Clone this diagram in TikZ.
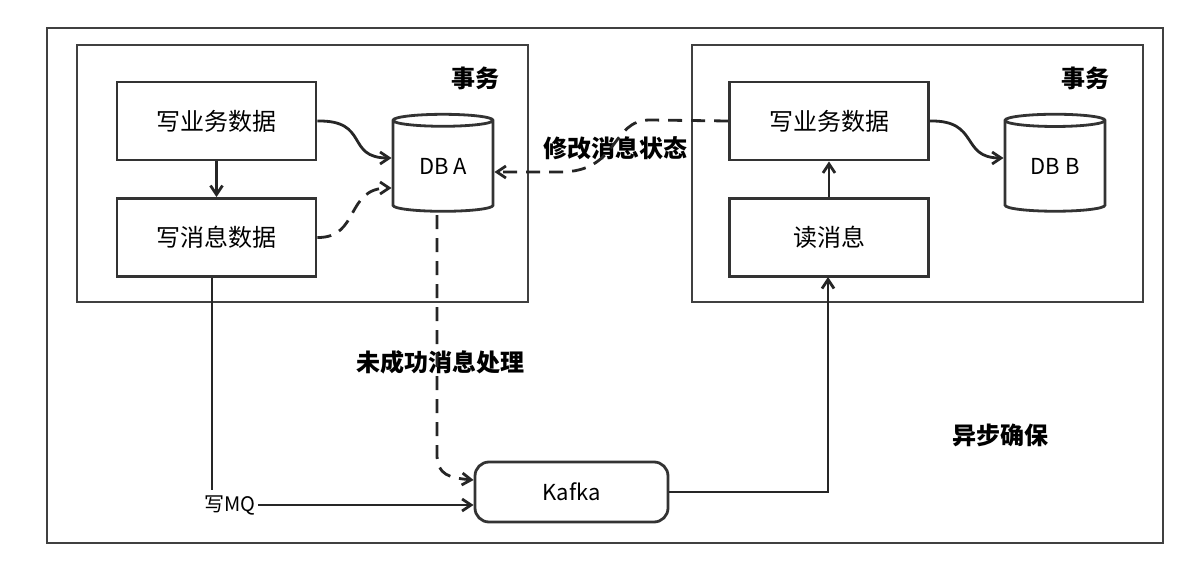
\documentclass[tikz,border=0pt]{standalone}
\usepackage{fontspec}
\setmainfont{Noto Sans CJK SC}
\usetikzlibrary{shapes.geometric,arrows.meta}
\begin{document}
\begin{tikzpicture}[x=1pt,y=-1pt,
  line width=2.8pt, draw=black!85,
  box/.style={draw=black!80,line width=2.8pt,minimum width=199pt,minimum height=78pt,inner sep=0pt,font=\fontsize{24}{28}\selectfont},
  frame/.style={draw=black!75,line width=2.8pt},
  db/.style={cylinder,shape border rotate=90,aspect=0.25,draw=black!80,line width=2.8pt,minimum width=100pt,minimum height=97pt,font=\fontsize{22}{26}\selectfont,inner sep=0pt},
  lbl/.style={font=\bfseries\fontsize{24}{28}\selectfont},
  arr/.style={-{Straight Barb[length=9pt,width=12pt]},line width=2.8pt},
  dsh/.style={dash pattern=on 14pt off 9pt}]
\useasboundingbox (0,0) rectangle (1186,583);
\node[frame,minimum width=1116pt,minimum height=515pt] (outer) at (605,285.5) {};
\node[frame,minimum width=451pt,minimum height=257pt] (lt) at (302.5,173.5) {};
\node[frame,minimum width=451pt,minimum height=257pt] (rt) at (917.5,173.5) {};
\node[lbl] (t1) at (475,78) {事务};
\node[lbl] (t2) at (1085,78) {事务};
\node[box] (w1) at (216.5,121) {写业务数据};
\node[box] (m1) at (216.5,237.5) {写消息数据};
\node[db] (dba) at (443,166.5) {DB A};
\node[box] (w2) at (829,121) {写业务数据};
\node[box] (r2) at (829,237.5) {读消息};
\node[db] (dbb) at (1055,166.5) {DB B};
\node[draw=black!80,line width=2.8pt,rounded corners=14pt,minimum width=193pt,minimum height=60pt,font=\fontsize{22}{26}\selectfont] (k) at (571.5,492) {Kafka};
\node[lbl] (l1) at (615,148) {修改消息状态};
\node[lbl] (l2) at (440,362) {未成功消息处理};
\node[lbl] (l3) at (1000,435) {异步确保};
\draw[arr] (w1.south) -- (m1.north);
\draw[arr] (w1.east) .. controls (370,120) and (345,158) .. (dba.west |- 0,158);
\draw[arr,dsh] (m1.east) .. controls (360,238) and (345,188) .. (dba.west |- 0,188);
\draw[arr,dsh] (437,215) -- (437,455) .. controls (437,475) and (450,478) .. (k.west |- 0,480);
\coordinate (c1) at (212,505);
\draw (m1.south -| c1) -- (212,490);
\node[font=\fontsize{20}{24}\selectfont,inner sep=1pt] (mq) at (230,505) {写MQ};
\draw[arr] (mq.east) -- (k.west |- mq.east);
\draw[arr] (k.east) -- (828,492) -- (828,277);
\draw[arr] (r2.north) -- (w2.south);
\draw[arr,dsh] (w2.west) -- (650,120) .. controls (610,120) and (620,172) .. (560,172) -- (dba.east |- 0,172);
\draw[arr] (w2.east) .. controls (980,120) and (960,158) .. (dbb.west |- 0,158);
\end{tikzpicture}
\end{document}
